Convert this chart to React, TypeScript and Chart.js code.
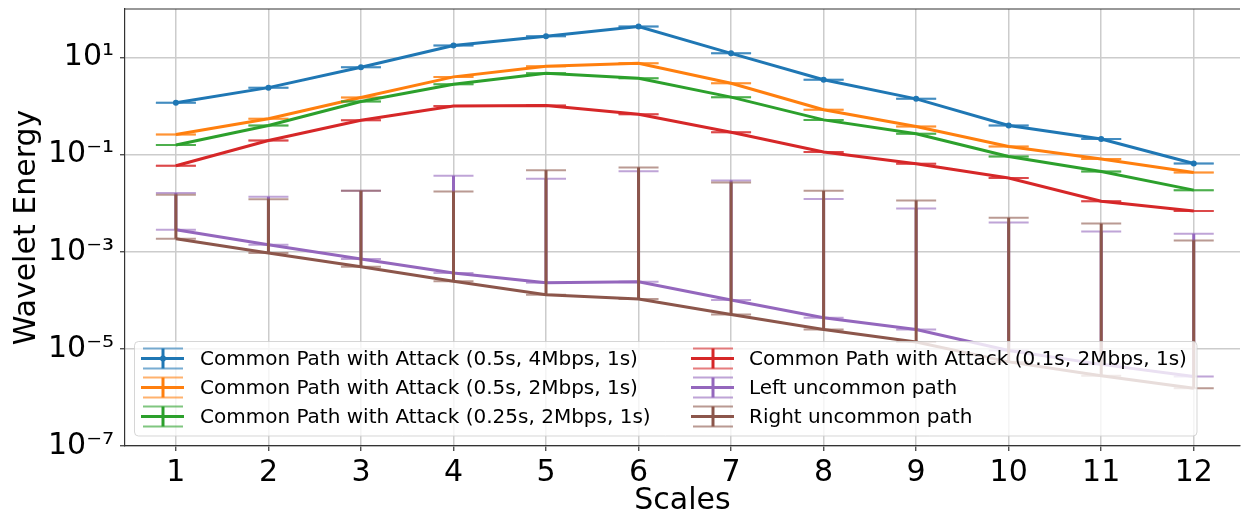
import React, { useEffect, useRef } from 'react';
import { Chart, registerables } from 'chart.js';

Chart.register(...registerables);

// ---------- data ----------
const scaleCategories = [1, 2, 3, 4, 5, 6, 7, 8, 9, 10, 11, 12];

const seriesLabels = [
  'Common Path with Attack (0.5s, 4Mbps, 1s)',
  'Common Path with Attack (0.5s, 2Mbps, 1s)',
  'Common Path with Attack (0.25s, 2Mbps, 1s)',
  'Common Path with Attack (0.1s, 2Mbps, 1s)',
  'Left uncommon path',
  'Right uncommon path',
];

const seriesColors = ['#1f77b4', '#ff7f0e', '#2ca02c', '#d62728', '#9467bd', '#8c564b'];

const attack05s4M = [1.17, 2.4, 6.3, 17.7, 27.4, 43.4, 12.2, 3.5, 1.41, 0.4, 0.21, 0.066];
const attack05s2M = [0.26, 0.55, 1.5, 4.0, 6.6, 7.6, 2.96, 0.84, 0.38, 0.148, 0.081, 0.043];
const attack025s2M = [0.158, 0.4, 1.24, 2.83, 4.75, 3.75, 1.53, 0.52, 0.27, 0.092, 0.045, 0.0186];
const attack01s2M = [0.059, 0.196, 0.51, 1.01, 1.03, 0.68, 0.29, 0.113, 0.065, 0.033, 0.011, 0.0069];
const leftUncommon = [0.00285, 0.0014, 0.00071, 0.000366, 0.000229, 0.00024, 0.000102, 0.000044, 0.000025, 0.0000093, 0.0000048, 0.0000027];
const rightUncommon = [0.00186, 0.00094, 0.00049, 0.000246, 0.000131, 0.000107, 0.000051, 0.000025, 0.0000139, 0.0000054, 0.0000028, 0.00000155];

// upper error (lower error is zero)
const attack05s4MErr = [0, 0, 0, 0, 0, 0, 0, 0, 0, 0, 0, 0];
const attack05s2MErr = [0, 0, 0, 0, 0, 0, 0, 0, 0, 0, 0, 0];
const attack025s2MErr = [0, 0, 0, 0, 0, 0, 0, 0, 0, 0, 0, 0];
const attack01s2MErr = [0, 0, 0, 0, 0, 0, 0, 0, 0, 0, 0, 0];
const leftUncommonErr = [0.0134, 0.0122, 0.0173, 0.0364, 0.0318, 0.0455, 0.0294, 0.0122, 0.0078, 0.004, 0.0026, 0.00235];
const rightUncommonErr = [0.0131, 0.0111, 0.0175, 0.0171, 0.0479, 0.0545, 0.0267, 0.018, 0.0114, 0.005, 0.0038, 0.0017];

const yTickValues = [1e-7, 1e-5, 1e-3, 1e-1, 1e1];
const yTickLabels = ['10⁻⁷', '10⁻⁵', '10⁻³', '10⁻¹', '10¹'];

const allValues = [attack05s4M, attack05s2M, attack025s2M, attack01s2M, leftUncommon, rightUncommon];
const allErrors = [attack05s4MErr, attack05s2MErr, attack025s2MErr, attack01s2MErr, leftUncommonErr, rightUncommonErr];
const pointMarkers = [3, 0, 0, 0, 0, 0];

const FONT = "'DejaVu Sans', sans-serif";

function withAlpha(hex: string, a: number) {
  const r = parseInt(hex.slice(1, 3), 16);
  const g = parseInt(hex.slice(3, 5), 16);
  const b = parseInt(hex.slice(5, 7), 16);
  return `rgba(${r},${g},${b},${a})`;
}

const errorBarPlugin = {
  id: 'errorBars',
  afterDatasetDraw(chart: any, args: any) {
    const i = args.index;
    const errs = allErrors[i];
    const vals = allValues[i];
    if (!errs) return;
    const ctx = chart.ctx;
    const ys = chart.scales.y;
    const meta = chart.getDatasetMeta(i);
    const color = seriesColors[i];
    ctx.save();
    ctx.beginPath();
    ctx.rect(chart.chartArea.left, chart.chartArea.top, chart.chartArea.right - chart.chartArea.left, chart.chartArea.bottom - chart.chartArea.top);
    ctx.clip();
    meta.data.forEach((pt: any, j: number) => {
      const x = pt.x;
      const yLow = ys.getPixelForValue(vals[j]);
      const yHigh = ys.getPixelForValue(vals[j] + errs[j]);
      ctx.strokeStyle = color;
      ctx.lineWidth = 3;
      ctx.beginPath();
      ctx.moveTo(x, yLow);
      ctx.lineTo(x, yHigh);
      ctx.stroke();
      ctx.strokeStyle = withAlpha(color, 0.6);
      ctx.lineWidth = 2;
      [yLow, yHigh].forEach((yy) => {
        ctx.beginPath();
        ctx.moveTo(x - 20, yy);
        ctx.lineTo(x + 20, yy);
        ctx.stroke();
      });
    });
    ctx.restore();
  },
};

const framePlugin = {
  id: 'frameAndLegend',
  afterDraw(chart: any) {
    const ctx = chart.ctx;
    const { left, right, top } = chart.chartArea;
    ctx.save();
    // top spine
    ctx.strokeStyle = '#333';
    ctx.lineWidth = 1.2;
    ctx.beginPath();
    ctx.moveTo(left, top);
    ctx.lineTo(right, top);
    ctx.stroke();

    // legend
    const bx = 134.5, by = 341.5, bw = 1062.5, bh = 94.5, r = 4;
    ctx.beginPath();
    ctx.moveTo(bx + r, by);
    ctx.lineTo(bx + bw - r, by);
    ctx.quadraticCurveTo(bx + bw, by, bx + bw, by + r);
    ctx.lineTo(bx + bw, by + bh - r);
    ctx.quadraticCurveTo(bx + bw, by + bh, bx + bw - r, by + bh);
    ctx.lineTo(bx + r, by + bh);
    ctx.quadraticCurveTo(bx, by + bh, bx, by + bh - r);
    ctx.lineTo(bx, by + r);
    ctx.quadraticCurveTo(bx, by, bx + r, by);
    ctx.closePath();
    ctx.fillStyle = 'rgba(255,255,255,0.8)';
    ctx.fill();
    ctx.strokeStyle = 'rgba(204,204,204,0.8)';
    ctx.lineWidth = 1;
    ctx.stroke();

    const rowsY = [358.5, 387.5, 416.5];
    const colHandleX = [141, 691];
    const colTextX = [200, 749];
    ctx.font = `20px ${FONT}`;
    ctx.textBaseline = 'middle';
    ctx.textAlign = 'left';
    seriesLabels.forEach((label, i) => {
      const col = Math.floor(i / 3);
      const row = i % 3;
      const y = rowsY[row];
      const hx = colHandleX[col];
      const color = seriesColors[i];
      ctx.strokeStyle = withAlpha(color, 0.6);
      ctx.lineWidth = 2;
      [y - 10, y + 10].forEach((yy) => {
        ctx.beginPath();
        ctx.moveTo(hx + 2, yy);
        ctx.lineTo(hx + 42, yy);
        ctx.stroke();
      });
      ctx.strokeStyle = color;
      ctx.lineWidth = 3;
      ctx.beginPath();
      ctx.moveTo(hx + 22, y - 10);
      ctx.lineTo(hx + 22, y + 10);
      ctx.stroke();
      ctx.beginPath();
      ctx.moveTo(hx, y);
      ctx.lineTo(hx + 43, y);
      ctx.stroke();
      if (pointMarkers[i] > 0) {
        ctx.fillStyle = color;
        ctx.beginPath();
        ctx.arc(hx + 22, y, pointMarkers[i], 0, Math.PI * 2);
        ctx.fill();
      }
      ctx.fillStyle = '#000';
      ctx.fillText(label, colTextX[col], y + 1);
    });
    ctx.restore();
  },
};

export default function App() {
  const canvasRef = useRef<HTMLCanvasElement | null>(null);

  useEffect(() => {
    if (!canvasRef.current) return;
    const datasets = allValues.map((vals, i) => ({
      label: seriesLabels[i],
      data: vals.map((v, j) => ({ x: scaleCategories[j], y: v })),
      borderColor: seriesColors[i],
      backgroundColor: seriesColors[i],
      borderWidth: 3,
      pointRadius: pointMarkers[i],
      pointHoverRadius: pointMarkers[i],
      pointBorderWidth: 0,
      tension: 0,
      fill: false,
      order: 5 - i,
    }));

    const chart = new Chart(canvasRef.current, {
      type: 'line',
      data: { datasets },
      plugins: [errorBarPlugin, framePlugin],
      options: {
        animation: false,
        responsive: true,
        maintainAspectRatio: false,
        layout: { padding: { top: 9, right: 0, bottom: 0, left: 0 } },
        plugins: {
          legend: { display: false },
          tooltip: { enabled: false },
          title: { display: false },
        },
        scales: {
          x: {
            type: 'linear',
            min: 0.45,
            max: 12.5,
            afterBuildTicks: (scale: any) => {
              scale.ticks = scaleCategories.map((v) => ({ value: v }));
            },
            afterFit: (scale: any) => {
              scale.height = 65;
              scale.paddingLeft = 0;
              scale.paddingRight = 0;
            },
            ticks: {
              color: '#000',
              font: { family: FONT, size: 30 },
              padding: 4,
              maxRotation: 0,
              autoSkip: false,
              callback: (v: any) => String(v),
            },
            grid: {
              color: '#cccccc',
              lineWidth: 1.5,
              tickColor: '#333',
              tickLength: 5,
              tickWidth: 1.2,
            },
            border: { color: '#333', width: 1.2 },
            title: {
              display: true,
              text: 'Scales',
              color: '#000',
              font: { family: FONT, size: 30 },
              padding: { top: 0, bottom: -8 },
            },
          },
          y: {
            type: 'logarithmic',
            min: 1e-7,
            max: 1e2,
            afterBuildTicks: (scale: any) => {
              scale.ticks = yTickValues.map((v) => ({ value: v }));
            },
            afterFit: (scale: any) => {
              scale.width = 125;
              scale.paddingTop = 0;
              scale.paddingBottom = 0;
            },
            ticks: {
              color: '#000',
              font: { family: FONT, size: 30 },
              padding: 6,
              autoSkip: false,
              callback: (v: any) => {
                const idx = yTickValues.findIndex((t) => Math.abs(Math.log10(t) - Math.log10(v)) < 1e-6);
                return idx >= 0 ? yTickLabels[idx] : '';
              },
            },
            grid: {
              color: '#cccccc',
              lineWidth: 1.5,
              tickColor: '#333',
              tickLength: 5,
              tickWidth: 1.2,
            },
            border: { color: '#333', width: 1.2 },
            title: {
              display: true,
              text: 'Wavelet Energy',
              color: '#000',
              font: { family: FONT, size: 30 },
              padding: { top: 9, bottom: 0 },
            },
          },
        },
      },
    });
    return () => chart.destroy();
  }, []);

  return (
    <div style={{ position: 'absolute', left: 0, top: 0, width: '1243px', height: '511px' }}>
      <canvas ref={canvasRef} />
    </div>
  );
}
